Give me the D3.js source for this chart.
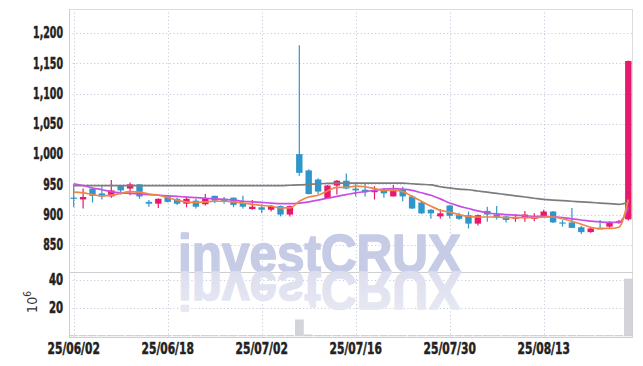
<!DOCTYPE html>
<html>
<head>
<meta charset="utf-8">
<script src="https://cdn.jsdelivr.net/npm/d3@7"></script>
<style>
  body { margin: 0; background: #fff; }
  .tick-label { font-family: 'Liberation Sans Narrow', 'DejaVu Sans Condensed', sans-serif; font-weight: bold; font-size: 15px; fill: #222; stroke: #222; stroke-width: 0.45px; }
</style>
</head>
<body>
<svg class="chart"></svg>
<script>
const dates = ["2025-06-02","2025-06-04","2025-06-05","2025-06-09","2025-06-10","2025-06-11","2025-06-12","2025-06-13","2025-06-16","2025-06-17",
  "2025-06-18","2025-06-19","2025-06-20","2025-06-23","2025-06-24","2025-06-25","2025-06-26","2025-06-27","2025-06-30","2025-07-01",
  "2025-07-02","2025-07-03","2025-07-04","2025-07-07","2025-07-08","2025-07-09","2025-07-10","2025-07-11","2025-07-14","2025-07-15",
  "2025-07-16","2025-07-17","2025-07-18","2025-07-21","2025-07-22","2025-07-23","2025-07-24","2025-07-25","2025-07-28","2025-07-29",
  "2025-07-30","2025-07-31","2025-08-01","2025-08-04","2025-08-05","2025-08-06","2025-08-07","2025-08-08","2025-08-11","2025-08-12",
  "2025-08-13","2025-08-14","2025-08-18","2025-08-19","2025-08-20","2025-08-21","2025-08-22","2025-08-25","2025-08-26","2025-08-27"]

const open  = [928,925,943,935,930,948,943,950,921,918, 930,926,918,923,917,931,926,928,919,909,
  912,908,914,900,1000,973,958,927,948,956, 943,941,937,940,930,941,930,920,908,897,
  915,899,899,885,906,900,897,893,894,893, 897,905,887,887,879,871,877,880,886,892]
const high  = [950,943,944,947,957,949,953,950,924,927, 932,928,930,926,934,931,929,928,931,924,
  917,916,915,915,1180,975,960,949,957,968, 953,952,947,944,949,946,932,921,909,909,
  916,903,905,900,913,914,898,901,906,902, 908,906,891,911,881,879,891,889,891,1155]
const low   = [912,910,920,925,928,933,932,926,913,911, 920,916,912,910,915,919,918,912,910,908,
  902,905,897,897,964,933,934,926,933,942, 930,930,925,928,930,922,909,901,893,893,
  894,891,877,882,888,892,887,888,888,889, 895,886,880,878,868,870,876,878,885,890]
const close = [926,929,931,930,940,940,950,930,918,926, 921,918,926,913,927,923,921,916,913,913,
  908,914,900,914,969,934,938,948,956,943, 940,937,939,935,941,930,910,902,902,902,
  898,893,885,899,900,895,891,896,900,896, 905,887,885,878,871,877,876,887,889,1154]

// volume in millions
const volume = [0.3,0.2,0.3,0.2,0.3,0.2,0.3,0.3,0.2,0.2, 0.2,0.2,0.2,0.3,0.2,0.2,0.2,0.2,0.2,0.2,
  0.2,0.2,0.3,0.3,11.5,0.8,0.5,0.4,0.4,0.3, 0.3,0.2,0.2,0.2,0.2,0.3,0.3,0.3,0.3,0.2,
  0.3,0.2,0.3,0.3,0.3,0.2,0.2,0.2,0.2,0.2, 0.2,0.3,0.2,0.3,0.3,0.2,0.2,0.2,0.2,40.7]

const maShort = [937,936,933,931,932,935,938,937,934,932, 928,924,921,920,921,922,922,921,919,917,
  915,914,911,911,922,929,932,939,945,945, 947,946,943,940,940,938,930,922,914,907,
  904,900,897,896,896,896,895,895,895,895, 896,896,893,889,884,879,877,877,879,925]
const maMid = [951,948,944,941,938,936,935,934,933,932, 931,930,929,928,927,926,925,924,922,921,
  920,919,918,918,919,921,924,927,930,933, 936,938,940,942,943,942,940,936,932,926,
  919,914,910,906,903,901,900,899,898,897, 897,896,895,893,891,889,888,887,887,912]
const maLong = [948,948,948,948,948,948,948,948,948,948, 948,948,948,948,948,948,948,948,948,948,
  948,948,948,948.5,949,950,951,951.5,952,952, 952,952,952,952,952,952,951,950,949,946,
  944,942,941,939,937,935,933,931,929,927, 925,924,923,922,921,920,919,918,917,920]

const priceTicks = [850,900,950,1000,1050,1100,1150,1200]
const volumeTicks = [20,40]
const dateTickIdx = [0,10,20,30,40,50]

const width = 643, height = 366
const plotL = 69, plotR = 633, plotT = 9, plotSplit = 272, plotB = 337
const upColor = '#e8196c', downColor = '#2e96ca'

const svg = d3.select('.chart').attr('width', width).attr('height', height)

const x = d3.scaleBand().domain(d3.range(dates.length)).range([plotL, plotR]).padding(0)
const cx = i => x(i) + x.bandwidth() / 2
const y = d3.scaleLinear().domain([805, 1240]).range([plotSplit, plotT])
const yv = d3.scaleLinear().domain([0, 45.7]).range([336, plotSplit])

// grid
const grid = svg.append('g').attr('stroke', '#c8cadf').attr('stroke-dasharray', '1.2,2.4').attr('stroke-width', 1)
grid.selectAll('.hg').data(priceTicks).enter().append('line')
  .attr('x1', plotL).attr('x2', plotR).attr('y1', d => Math.round(y(d)) + 0.5).attr('y2', d => Math.round(y(d)) + 0.5)
grid.selectAll('.vg').data(volumeTicks).enter().append('line')
  .attr('x1', plotL).attr('x2', plotR).attr('y1', d => Math.round(yv(d)) + 0.5).attr('y2', d => Math.round(yv(d)) + 0.5)
grid.selectAll('.xg').data(dateTickIdx).enter().append('line')
  .attr('x1', d => Math.round(cx(d)) + 0.5).attr('x2', d => Math.round(cx(d)) + 0.5).attr('y1', plotT).attr('y2', plotB)

// frame
svg.append('line').attr('x1', plotL).attr('x2', plotR).attr('y1', plotT + 0.5).attr('y2', plotT + 0.5).attr('stroke', '#dcdcdc')
svg.append('line').attr('x1', plotR - 0.5).attr('x2', plotR - 0.5).attr('y1', plotT).attr('y2', plotB).attr('stroke', '#dcdcdc')
svg.append('line').attr('x1', plotL).attr('x2', plotR).attr('y1', plotSplit + 0.5).attr('y2', plotSplit + 0.5).attr('stroke', '#cfcfcf')
svg.append('line').attr('x1', plotL).attr('x2', plotR).attr('y1', plotB + 0.5).attr('y2', plotB + 0.5).attr('stroke', '#cfcfcf')
svg.append('line').attr('x1', plotL + 0.5).attr('x2', plotL + 0.5).attr('y1', plotT).attr('y2', plotB).attr('stroke', '#cfcfcf')

// watermark with reflection
const defs = svg.append('defs')
const grad = defs.append('linearGradient').attr('id', 'fade').attr('x1', 0).attr('x2', 0).attr('y1', 0).attr('y2', 1)
grad.append('stop').attr('offset', '0%').attr('stop-color', '#e8eaf4')
grad.append('stop').attr('offset', '100%').attr('stop-color', '#dadced')
const mark = svg.append('g').attr('font-family', "'Liberation Sans', Arial, sans-serif").attr('font-weight', 'bold').attr('font-size', 54)
  .attr('stroke-width', 1.6).attr('stroke-linejoin', 'round')
mark.append('text').attr('x', 178).attr('y', plotSplit).attr('textLength', 283).attr('lengthAdjust', 'spacingAndGlyphs')
  .attr('fill', '#c6cbe6').attr('stroke', '#c6cbe6').text('investCRUX')
mark.append('text').attr('x', 178).attr('y', -plotSplit).attr('transform', 'scale(1,-1)')
  .attr('textLength', 283).attr('lengthAdjust', 'spacingAndGlyphs')
  .attr('fill', 'url(#fade)').attr('stroke', 'url(#fade)').text('investCRUX')

// volume bars
svg.append('g').selectAll('rect').data(volume).enter().append('rect')
  .attr('x', (d, i) => cx(i) - 4).attr('width', 8)
  .attr('y', d => yv(d)).attr('height', d => yv(0) - yv(d))
  .attr('fill', '#d3d3da').attr('stroke', '#c6c6ce').attr('stroke-width', 0.5)

// candles
const candles = svg.append('g').selectAll('g').data(dates).enter().append('g')
  .attr('fill', (d, i) => close[i] > open[i] ? upColor : downColor)
  .attr('stroke', (d, i) => close[i] > open[i] ? upColor : downColor)
candles.append('line')
  .attr('x1', (d, i) => cx(i)).attr('x2', (d, i) => cx(i))
  .attr('y1', (d, i) => y(high[i])).attr('y2', (d, i) => y(low[i]))
  .attr('stroke-width', 1.2)
candles.append('rect')
  .attr('x', (d, i) => cx(i) - 3.2).attr('width', 6.4)
  .attr('y', (d, i) => y(Math.max(open[i], close[i])))
  .attr('height', (d, i) => Math.max(1, Math.abs(y(open[i]) - y(close[i]))))
  .attr('stroke', 'none')

// moving averages
const line = d3.line().x((d, i) => cx(i)).y(d => y(d)).curve(d3.curveMonotoneX)
svg.append('path').datum(maLong).attr('d', line).attr('fill', 'none').attr('stroke', '#7d7d7d').attr('stroke-width', 1.7)
svg.append('path').datum(maMid).attr('d', line).attr('fill', 'none').attr('stroke', '#c94fe3').attr('stroke-width', 1.7)
svg.append('path').datum(maShort).attr('d', line).attr('fill', 'none').attr('stroke', '#ef8646').attr('stroke-width', 1.7)

// squeeze the tick text to the narrow face of the reference
function narrow(sel, k) {
  sel.each(function() {
    const w = this.getComputedTextLength()
    d3.select(this).attr('textLength', w * k).attr('lengthAdjust', 'spacingAndGlyphs')
  })
}

// axes
const yAxis = d3.axisLeft(y).tickValues(priceTicks).tickSize(0).tickPadding(6).tickFormat(d3.format(','))
svg.append('g').attr('transform', `translate(${plotL},0)`).call(yAxis)
  .call(g => g.select('.domain').remove())
  .selectAll('text').attr('class', 'tick-label').attr('font-family', null).attr('font-size', null).attr('fill', null)
  .call(narrow, 0.7)

const vAxis = d3.axisLeft(yv).tickValues(volumeTicks).tickSize(0).tickPadding(6)
svg.append('g').attr('transform', `translate(${plotL},0)`).call(vAxis)
  .call(g => g.select('.domain').remove())
  .selectAll('text').attr('class', 'tick-label').attr('font-family', null).attr('font-size', null).attr('fill', null)
  .call(narrow, 0.75)

const fmt = d => d.slice(2).replace(/-/g, '/')
const xAxis = d3.axisBottom(x).tickValues(dateTickIdx).tickSize(0).tickPadding(6).tickFormat(i => fmt(dates[i]))
svg.append('g').attr('transform', `translate(0,${plotB})`).call(xAxis)
  .call(g => g.select('.domain').remove())
  .selectAll('text').attr('class', 'tick-label').attr('font-family', null).attr('font-size', null).attr('fill', null)
  .call(narrow, 0.79)

const unit = svg.append('text').attr('transform', 'translate(37,302) rotate(-90)')
  .attr('text-anchor', 'middle').attr('font-family', "'Liberation Sans Narrow', 'DejaVu Sans Condensed', sans-serif")
  .attr('font-size', 14).attr('fill', '#333')
unit.append('tspan').text('10')
unit.append('tspan').attr('dy', -6).attr('font-size', 10).text('6')
</script>
</body>
</html>
